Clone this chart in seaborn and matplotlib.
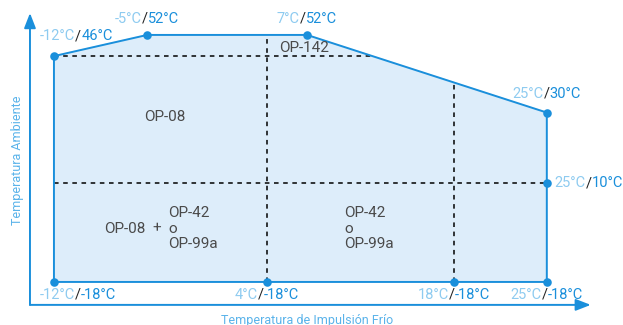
import numpy as np
import pandas as pd
import seaborn as sns
import matplotlib.pyplot as plt
from matplotlib.offsetbox import TextArea, HPacker, AnnotationBbox

# ================= DATA =================
# operating envelope corners: impulse temp (x) / ambient temp (y)
env_x = [-12, -5, 7, 25, 25, 25, 18, 4, -12]
env_y = [46, 52, 52, 30, 10, -18, -18, -18, -18]

# dashed split lines
h_split_y = [46, 10]
v_split_x = [4, 18]

region_labels = ["OP-08", "OP-142", "OP-08", "+"]
stack_label = "OP-42\no\nOP-99a"

# ================= STYLE =================
LINE = "#1a8fdb"
FILL = "#ddedfa"
LIGHT = "#8ecbf0"
DARK = "#222222"
TXT = "#4a4a4a"
FS = 10.5

sns.set_style("white")
plt.rcParams["font.family"] = ["Roboto", "DejaVu Sans"]

fig = plt.figure(figsize=(6.23, 3.25), dpi=100)
ax = fig.add_axes([0, 0, 1, 1])
ax.set_xlim(-16.05, 30.72)
ax.set_ylim(-30.2, 61.9)
ax.axis("off")

df = pd.DataFrame({"x": env_x + [env_x[0]], "y": env_y + [env_y[0]]})

# fill + border
ax.fill(df["x"], df["y"], color=FILL, zorder=1)
sns.lineplot(data=df, x="x", y="y", sort=False, estimator=None,
             color=LINE, lw=1.4, ax=ax, zorder=3)


def top_at(x):
    # ambient limit of the envelope at a given impulse temp
    return np.interp(x, env_x[:4], env_y[:4])


# dashed grid inside the envelope
dash = dict(color="black", lw=1.1, ls=(0, (3, 3)), zorder=2)
# y=46 line runs until it hits the sloped edge
xs = np.linspace(7, 25, 500)
x_end = xs[np.argmin(np.abs(top_at(xs) - h_split_y[0]))]
ax.plot([env_x[0], x_end], [h_split_y[0]] * 2, **dash)
ax.plot([env_x[0], env_x[4]], [h_split_y[1]] * 2, **dash)
for vx in v_split_x:
    ax.plot([vx, vx], [env_y[-1], top_at(vx)], **dash)

sns.scatterplot(x=env_x, y=env_y, s=38, color=LINE, edgecolor=LINE,
                linewidth=0, ax=ax, zorder=4)

# corner labels (offsets in pixels, alignment)
offsets = [(-14, 20, 0), (0, 16, 0.5), (0, 16, 0.5), (0, 19, 0.5),
           (8, 0, 0), (0, -13, 0.5), (0, -13, 0.5), (0, -13, 0.5),
           (-14, -13, 0)]
for i, (dx, dy, ha) in enumerate(offsets):
    x, y = env_x[i], env_y[i]
    parts = [TextArea(f"{x}°C", textprops=dict(color=LIGHT, fontsize=FS)),
             TextArea("/", textprops=dict(color=DARK, fontsize=FS)),
             TextArea(f"{y}°C", textprops=dict(color=LINE, fontsize=FS))]
    box = HPacker(children=parts, pad=0, sep=0, align="baseline")
    ab = AnnotationBbox(box, (x, y), xybox=(dx, dy), xycoords="data",
                        boxcoords="offset pixels", box_alignment=(ha, 0.5),
                        frameon=False, pad=0)
    ax.add_artist(ab)

# region names
tk = dict(color=TXT, fontsize=11, va="center")
ax.text(-5.2, 28.7, region_labels[0], **tk)
ax.text(4.9, 48.3, region_labels[1], **tk)
ax.text(-8.2, -2.9, region_labels[2], **tk)
ax.text(-4.6, -2.9, region_labels[3], **tk)
ax.text(-3.4, -2.9, stack_label, linespacing=1.15, **tk)
ax.text(9.8, -2.9, stack_label, linespacing=1.15, **tk)

# axes with arrows
ax_x0, ax_y0 = -13.8, -24.5
arr = dict(arrowstyle="-|>,head_length=0.9,head_width=0.35", color=LINE,
           lw=1.4, shrinkA=0, shrinkB=0)
ax.annotate("", xy=(ax_x0, 58.2), xytext=(ax_x0, ax_y0), arrowprops=arr)
ax.annotate("", xy=(28.3, ax_y0), xytext=(ax_x0, ax_y0), arrowprops=arr)

ax.text(-14.75, 16.5, "Temperatura Ambiente", rotation=90, color="#5ab3ea",
        fontsize=9, ha="center", va="center")
ax.text(7.0, -28.9, "Temperatura de Impulsión Frío", color="#5ab3ea",
        fontsize=9, ha="center", va="center")

fig.savefig("out.png", dpi=100)
